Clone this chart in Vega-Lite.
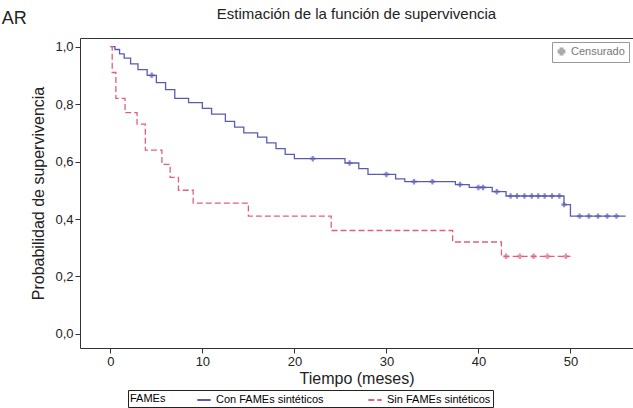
{
  "$schema": "https://vega.github.io/schema/vega-lite/v6.json",
  "width": 553, "height": 310,
  "autosize": "none",
  "padding": {"left": 80, "top": 38, "right": 0, "bottom": 60},
  "background": "white",
  "view": {"stroke": "#333", "strokeWidth": 1},
  "config": {"font": "Liberation Sans", "axis": {"grid": false, "domain": false, "tickColor": "#333", "labelColor": "#222", "labelFontSize": 13, "titleFontSize": 16, "titleFontWeight": "normal", "titleColor": "#222"}},
  "title": {"text": "Estimación de la función de supervivencia", "fontSize": 15, "fontWeight": "normal", "offset": -12, "color": "#222"},
  "datasets": {
    "curves": [
      {"g": "Con FAMEs sintéticos", "t": 0, "s": 1.0},
      {"g": "Con FAMEs sintéticos", "t": 0.5, "s": 0.99},
      {"g": "Con FAMEs sintéticos", "t": 1.0, "s": 0.975},
      {"g": "Con FAMEs sintéticos", "t": 1.5, "s": 0.96},
      {"g": "Con FAMEs sintéticos", "t": 2.2, "s": 0.94},
      {"g": "Con FAMEs sintéticos", "t": 3.0, "s": 0.92},
      {"g": "Con FAMEs sintéticos", "t": 4.0, "s": 0.9},
      {"g": "Con FAMEs sintéticos", "t": 5.0, "s": 0.875},
      {"g": "Con FAMEs sintéticos", "t": 6.0, "s": 0.85},
      {"g": "Con FAMEs sintéticos", "t": 7.0, "s": 0.82},
      {"g": "Con FAMEs sintéticos", "t": 8.5, "s": 0.805},
      {"g": "Con FAMEs sintéticos", "t": 10.0, "s": 0.785},
      {"g": "Con FAMEs sintéticos", "t": 11.0, "s": 0.765},
      {"g": "Con FAMEs sintéticos", "t": 12.5, "s": 0.74},
      {"g": "Con FAMEs sintéticos", "t": 13.5, "s": 0.72},
      {"g": "Con FAMEs sintéticos", "t": 14.5, "s": 0.7},
      {"g": "Con FAMEs sintéticos", "t": 16.0, "s": 0.685},
      {"g": "Con FAMEs sintéticos", "t": 17.0, "s": 0.665},
      {"g": "Con FAMEs sintéticos", "t": 18.0, "s": 0.645},
      {"g": "Con FAMEs sintéticos", "t": 19.0, "s": 0.625},
      {"g": "Con FAMEs sintéticos", "t": 20.0, "s": 0.61},
      {"g": "Con FAMEs sintéticos", "t": 25.5, "s": 0.595},
      {"g": "Con FAMEs sintéticos", "t": 27.0, "s": 0.575},
      {"g": "Con FAMEs sintéticos", "t": 28.0, "s": 0.555},
      {"g": "Con FAMEs sintéticos", "t": 31.0, "s": 0.54},
      {"g": "Con FAMEs sintéticos", "t": 32.0, "s": 0.53},
      {"g": "Con FAMEs sintéticos", "t": 37.5, "s": 0.52},
      {"g": "Con FAMEs sintéticos", "t": 39.0, "s": 0.51},
      {"g": "Con FAMEs sintéticos", "t": 41.5, "s": 0.495},
      {"g": "Con FAMEs sintéticos", "t": 43.0, "s": 0.48},
      {"g": "Con FAMEs sintéticos", "t": 49.3, "s": 0.45},
      {"g": "Con FAMEs sintéticos", "t": 50.0, "s": 0.41},
      {"g": "Con FAMEs sintéticos", "t": 56.0, "s": 0.41},
      {"g": "Sin FAMEs sintéticos", "t": 0, "s": 1.0},
      {"g": "Sin FAMEs sintéticos", "t": 0.2, "s": 0.91},
      {"g": "Sin FAMEs sintéticos", "t": 0.6, "s": 0.82},
      {"g": "Sin FAMEs sintéticos", "t": 1.6, "s": 0.77},
      {"g": "Sin FAMEs sintéticos", "t": 2.9, "s": 0.73},
      {"g": "Sin FAMEs sintéticos", "t": 3.8, "s": 0.64},
      {"g": "Sin FAMEs sintéticos", "t": 5.6, "s": 0.59},
      {"g": "Sin FAMEs sintéticos", "t": 6.5, "s": 0.545},
      {"g": "Sin FAMEs sintéticos", "t": 7.4, "s": 0.5},
      {"g": "Sin FAMEs sintéticos", "t": 9.0, "s": 0.455},
      {"g": "Sin FAMEs sintéticos", "t": 15.0, "s": 0.41},
      {"g": "Sin FAMEs sintéticos", "t": 24.0, "s": 0.36},
      {"g": "Sin FAMEs sintéticos", "t": 37.2, "s": 0.32},
      {"g": "Sin FAMEs sintéticos", "t": 42.5, "s": 0.27},
      {"g": "Sin FAMEs sintéticos", "t": 50.0, "s": 0.27}
    ],
    "censor": [
      {"g": "Con FAMEs sintéticos", "t": 4.5, "s": 0.9},
      {"g": "Con FAMEs sintéticos", "t": 22.0, "s": 0.61},
      {"g": "Con FAMEs sintéticos", "t": 26.0, "s": 0.595},
      {"g": "Con FAMEs sintéticos", "t": 30.0, "s": 0.555},
      {"g": "Con FAMEs sintéticos", "t": 33.0, "s": 0.53},
      {"g": "Con FAMEs sintéticos", "t": 35.0, "s": 0.53},
      {"g": "Con FAMEs sintéticos", "t": 38.0, "s": 0.52},
      {"g": "Con FAMEs sintéticos", "t": 40.0, "s": 0.51},
      {"g": "Con FAMEs sintéticos", "t": 40.5, "s": 0.51},
      {"g": "Con FAMEs sintéticos", "t": 42.0, "s": 0.495},
      {"g": "Con FAMEs sintéticos", "t": 43.5, "s": 0.48},
      {"g": "Con FAMEs sintéticos", "t": 44.2, "s": 0.48},
      {"g": "Con FAMEs sintéticos", "t": 45.0, "s": 0.48},
      {"g": "Con FAMEs sintéticos", "t": 45.8, "s": 0.48},
      {"g": "Con FAMEs sintéticos", "t": 46.5, "s": 0.48},
      {"g": "Con FAMEs sintéticos", "t": 47.2, "s": 0.48},
      {"g": "Con FAMEs sintéticos", "t": 48.0, "s": 0.48},
      {"g": "Con FAMEs sintéticos", "t": 48.8, "s": 0.48},
      {"g": "Con FAMEs sintéticos", "t": 49.3, "s": 0.45},
      {"g": "Con FAMEs sintéticos", "t": 51.0, "s": 0.41},
      {"g": "Con FAMEs sintéticos", "t": 52.0, "s": 0.41},
      {"g": "Con FAMEs sintéticos", "t": 53.0, "s": 0.41},
      {"g": "Con FAMEs sintéticos", "t": 54.0, "s": 0.41},
      {"g": "Con FAMEs sintéticos", "t": 55.0, "s": 0.41},
      {"g": "Sin FAMEs sintéticos", "t": 43.0, "s": 0.27},
      {"g": "Sin FAMEs sintéticos", "t": 44.5, "s": 0.27},
      {"g": "Sin FAMEs sintéticos", "t": 46.0, "s": 0.27},
      {"g": "Sin FAMEs sintéticos", "t": 47.5, "s": 0.27},
      {"g": "Sin FAMEs sintéticos", "t": 49.5, "s": 0.27}
    ],
    "label": [{"t": -11.8, "s": 1.095, "txt": "AR"}]
  },
  "layer": [
    {
      "data": {"name": "curves"},
      "mark": {"type": "line", "interpolate": "step-after", "strokeWidth": 1.3},
      "encoding": {
        "x": {"field": "t", "type": "quantitative", "scale": {"domain": [-3.3, 56.8], "nice": false, "zero": false}, "axis": {"values": [0, 10, 20, 30, 40, 50], "title": "Tiempo (meses)", "titlePadding": 2}},
        "y": {"field": "s", "type": "quantitative", "scale": {"domain": [-0.049, 1.03], "nice": false, "zero": false}, "axis": {"values": [0, 0.2, 0.4, 0.6, 0.8, 1.0], "labelExpr": "replace(format(datum.value, '.1f'), '.', ',')", "title": "Probabilidad de supervivencia", "titlePadding": 8}},
        "color": {"field": "g", "type": "nominal", "scale": {"domain": ["Con FAMEs sintéticos", "Sin FAMEs sintéticos"], "range": ["#5a5ab4", "#e0607a"]}, "legend": {"title": "FAMEs", "orient": "none", "legendX": 48, "legendY": 352, "direction": "horizontal", "titleOrient": "left", "titleAnchor": "middle", "titleBaseline": "middle", "titlePadding": 30, "strokeColor": "#222", "padding": 2, "symbolType": "stroke", "symbolSize": 180, "symbolStrokeWidth": 2, "labelFontSize": 11, "titleFontSize": 11, "titleFontWeight": "normal", "columnPadding": 40}},
        "strokeDash": {"field": "g", "type": "nominal", "scale": {"domain": ["Con FAMEs sintéticos", "Sin FAMEs sintéticos"], "range": [[1, 0], [6, 3]]}, "legend": null}
      }
    },
    {
      "data": {"name": "censor"},
      "mark": {"type": "point", "shape": "cross", "filled": true, "size": 30},
      "encoding": {
        "x": {"field": "t", "type": "quantitative"},
        "y": {"field": "s", "type": "quantitative"},
        "color": {"field": "g", "type": "nominal", "legend": null},
        "shape": {"datum": "Censurado", "scale": {"range": ["cross"]}, "legend": {"title": null, "orient": "top-right", "strokeColor": "#999", "padding": 4, "offset": 4, "symbolType": "cross", "symbolFillColor": "#888", "symbolStrokeColor": "#888", "symbolSize": 40, "labelColor": "#777", "labelFontSize": 11}}
      }
    },
    {
      "data": {"name": "label"},
      "mark": {"type": "text", "fontSize": 18, "align": "left", "color": "#222", "clip": false},
      "encoding": {"x": {"field": "t", "type": "quantitative"}, "y": {"field": "s", "type": "quantitative"}, "text": {"field": "txt"}}
    }
  ]
}
